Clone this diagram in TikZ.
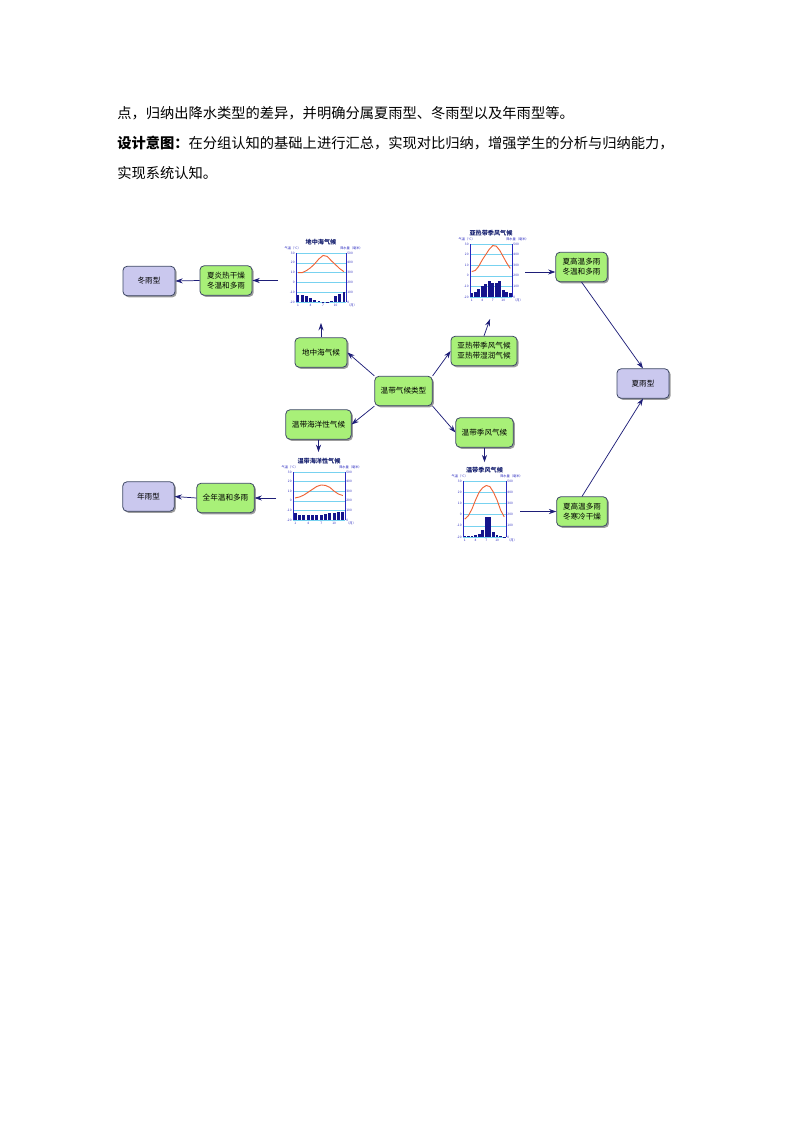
\documentclass[tikz,border=0pt]{standalone}
\usepackage{fontspec}
\setmainfont{Noto Sans CJK SC}
\usepackage{tikz}
\usetikzlibrary{arrows.meta,shadows}
\definecolor{boxgreen}{RGB}{168,240,120}
\definecolor{boxlilac}{RGB}{202,200,238}
\definecolor{boxedge}{RGB}{60,70,100}
\definecolor{arrowblue}{RGB}{30,30,120}
\definecolor{gridcyan}{RGB}{120,210,240}
\definecolor{axisblue}{RGB}{40,40,190}
\definecolor{barnavy}{RGB}{20,20,140}
\definecolor{tempred}{RGB}{238,100,55}
\definecolor{titlenavy}{RGB}{20,30,110}
% one climate chart: origin of the plot, width, height, title, temperatures, rainfall
\newcommand{\climchart}[6]{%
  \begin{scope}[shift={#1}]
    \foreach \k in {0,...,5} \draw[gridline] (0,{\k*#3/5}) -- (#2,{\k*#3/5});
    \foreach \p [count=\m] in {#6} \fill[barnavy] ({(\m-0.5)*#2/12-1.4},0) rectangle ++(2.8,{\p*#3/500});
    \foreach \t [count=\m] in {#5} \coordinate (t\m) at ({(\m-0.5)*#2/12},{(\t+20)*#3/50});
    \draw[tempred,line width=0.7pt,line join=round] (t1) \foreach \m in {2,...,12} { -- (t\m) };
    \draw[axisblue,line width=0.5pt] (0,0) -- (0,#3);
    \draw[axisblue,line width=0.5pt] (#2,0) -- (#2,#3);
    \foreach \v [count=\k from 0] in {-20,-10,0,10,20,30} \node[ticklabel,anchor=east] at (-1.2,{\k*#3/5}) {\v};
    \foreach \v [count=\k from 0] in {0,100,200,300,400,500} \node[ticklabel,anchor=west] at (#2+1.2,{\k*#3/5}) {\v};
    \foreach \mo in {1,4,7,10} \node[ticklabel,anchor=north] at ({(\mo-0.5)*#2/12},-1.8) {\mo};
    \node[ticklabel,anchor=north west] at (#2+1,-1.8) {（月）};
    \node[ticklabel,anchor=south east] at (5,#3+2.5) {气温（℃）};
    \node[ticklabel,anchor=south west] at (#2-6,#3+2.5) {降水量（毫米）};
    \node[charttitle] at (#2/2,#3+11) {#4};
  \end{scope}}

\begin{document}
\begin{tikzpicture}[x=0.75pt,y=0.75pt,>={Stealth[length=5.5pt,width=3.8pt]},
  bodytext/.style={anchor=west,inner sep=0pt,font=\fontsize{10.7}{13}\selectfont},
  box/.style={draw=boxedge,line width=0.6pt,rounded corners=3pt,fill=boxgreen,align=center,
    inner sep=0pt,minimum width=39pt,minimum height=22pt,font=\fontsize{5.7}{7.6}\selectfont,
    drop shadow={shadow xshift=1.2pt,shadow yshift=-1.2pt,fill=black!55,opacity=0.7}},
  typebox/.style={box,fill=boxlilac},
  chartframe/.style={inner sep=0pt,outer sep=0pt},
  link/.style={->,arrowblue,line width=0.55pt},
  gridline/.style={gridcyan,line width=0.4pt},
  ticklabel/.style={inner sep=0pt,text=axisblue,font=\fontsize{2.4}{2.8}\selectfont},
  charttitle/.style={inner sep=0pt,text=titlenavy,font=\fontsize{4.6}{5}\selectfont\bfseries}]
  \useasboundingbox (0,0) rectangle (794,-1123);
  % text above the diagram
  \node[bodytext] (para1) at (117,-113) {点，归纳出降水类型的差异，并明确分属夏雨型、冬雨型以及年雨型等。};
  \node[bodytext] (para2) at (117,-143) {\textbf{设计意图：}在分组认知的基础上进行汇总，实现对比归纳，增强学生的分析与归纳能力，};
  \node[bodytext] (para3) at (117,-173) {实现系统认知。};
  % climate types
  \node[box,minimum width=43pt] (center) at (403.5,-391) {温带气候类型};
  \node[box] (med) at (321,-352.5) {地中海气候};
  \node[box,minimum width=49.5pt] (subtrop) at (484,-351) {亚热带季风气候\\亚热带湿润气候};
  \node[box,minimum width=49pt] (ocean) at (318.5,-424.5) {温带海洋性气候};
  \node[box,minimum width=43pt] (monsoon) at (484.5,-432.5) {温带季风气候};
  % features and rain types
  \node[box] (medfeat) at (226,-280.5) {夏炎热干燥\\冬温和多雨};
  \node[typebox] (winter) at (149,-281) {冬雨型};
  \node[box,minimum width=38.5pt] (subfeat) at (581.5,-267) {夏高温多雨\\冬温和多雨};
  \node[box,minimum width=38pt] (monfeat) at (582,-511.5) {夏高温多雨\\冬寒冷干燥};
  \node[typebox] (summer) at (643,-383.5) {夏雨型};
  \node[box,minimum width=43pt] (yearfeat) at (225.5,-498) {全年温和多雨};
  \node[typebox,minimum width=38.5pt] (yearround) at (148.5,-496.5) {年雨型};
  % charts
  \node[chartframe,minimum width=63pt,minimum height=72pt] (medchart) at (320,-275) {};
  \node[chartframe,minimum width=52.5pt,minimum height=70.5pt] (subchart) at (490,-272) {};
  \node[chartframe,minimum width=64.5pt,minimum height=57pt] (oceanchart) at (319,-490) {};
  \node[chartframe,minimum width=54pt,minimum height=62pt] (monchart) at (484,-503.5) {};
  \climchart{(296,-302)}{50}{49}{地中海气候}{10,10,12,15,19,24,27.5,26.5,22,18,14,11}{75,70,65,40,20,8,3,5,15,60,85,100}
  \climchart{(470,-297)}{42}{53}{亚热带季风气候}{4,5,9,15,20,25,28.5,28,24,18,12,7}{40,50,80,105,125,150,135,135,150,65,50,35}
  \climchart{(293,-520)}{52}{48}{温带海洋性气候}{3,4,6,9,12,15,16.5,16,14,10,7,5.5}{75,55,55,52,55,50,55,62,70,78,80,80}
  \climchart{(463,-537)}{43}{56}{温带季风气候}{-4,-1,5,13,20,24,26,25,20,13,4,-2}{5,5,10,20,25,60,180,180,45,15,8,4}
  % connectors
  \draw[link] (center.north west) -- (med.east);
  \draw[link] (center.north east) -- (subtrop.west);
  \draw[link] (center.south west) -- (ocean.east);
  \draw[link] (center.south east) -- (monsoon.west);
  \draw[link] (med.north) -- (med.north |- medchart.south);
  \draw[link] (medchart.west |- medfeat.east) -- (medfeat.east);
  \draw[link] (medfeat.west) -- (winter.east);
  \draw[link] (subtrop.north) -- (subchart.south);
  \draw[link] (subchart.east) -- (subchart.east -| subfeat.west);
  \draw[link] (subfeat.south) -- (summer.north);
  \draw[link] (ocean.south) -- (ocean.south |- oceanchart.north);
  \draw[link] (oceanchart.west |- yearfeat.east) -- (yearfeat.east);
  \draw[link] (yearfeat.west) -- (yearround.east);
  \draw[link] (monsoon.south) -- (monsoon.south |- monchart.north);
  \draw[link] (monchart.east |- monfeat.west) -- (monfeat.west);
  \draw[link] (monfeat.north) -- (summer.south);
\end{tikzpicture}
\end{document}
